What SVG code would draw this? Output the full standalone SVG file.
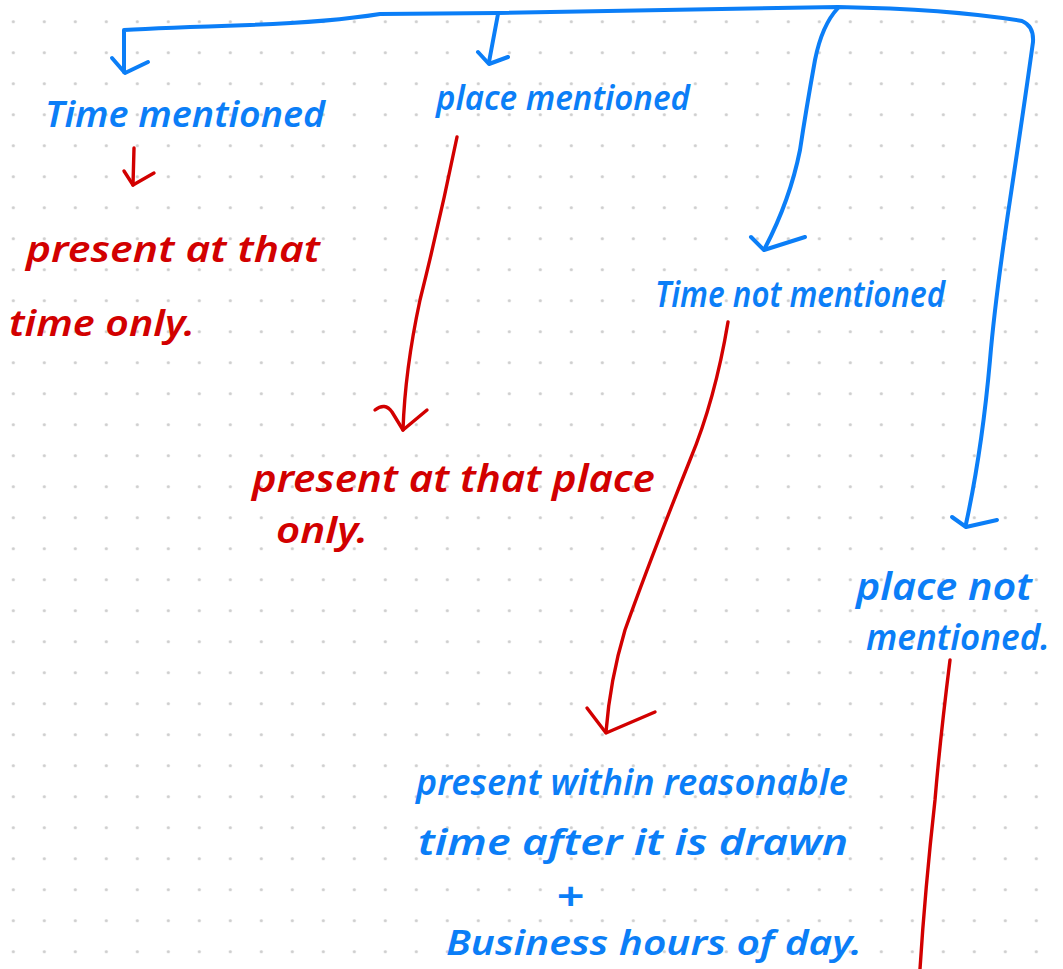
<svg xmlns="http://www.w3.org/2000/svg" width="1063" height="969" viewBox="0 0 1063 969">
  <defs>
    <!-- dotted notebook paper -->
    <pattern id="dots" x="-2.2" y="6.2" width="31" height="31" patternUnits="userSpaceOnUse">
      <circle cx="15.5" cy="15.5" r="1.6" fill="#cdcdcd"/>
    </pattern>
    <style>
      .blue { fill: #0b7ef7; }
      .red { fill: #d20000; }
      text { font-family: "Noto Sans", "DejaVu Sans", sans-serif; font-style: italic; font-weight: 600; }
      .wire { fill: none; stroke-linecap: round; stroke-linejoin: round; }
      .wb { stroke: #0b7ef7; stroke-width: 4; }
      .wr { stroke: #d20000; stroke-width: 3.4; }
    </style>
  </defs>

  <rect width="1063" height="969" fill="#ffffff"/>
  <rect width="1063" height="969" fill="url(#dots)"/>

  <!-- connectors -->
  <g id="connectors">
    <!-- top bracket -->
    <path class="wire wb" d="M124 72 L124 30 Q160 28 250 25 Q330 22 380 14 L498 13 Q650 10 838 7 Q950 9 1022 21 Q1034 26 1033 42 Q1025 100 1010 200 Q995 300 990 360 Q982 450 966 524"/>
    <path class="wire wb" d="M112 58 L125 73 L148 62"/>
    <path class="wire wb" d="M498 14 L489 62"/>
    <path class="wire wb" d="M478 52 L489 64 L508 57"/>
    <path class="wire wb" d="M838 8 Q822 25 815 60 Q806 110 800 150 Q790 200 765 248"/>
    <path class="wire wb" d="M751 237 L764 250 L805 237"/>
    <path class="wire wb" d="M952 517 L966 527 L997 520"/>

    <!-- red arrows -->
    <path class="wire wr" d="M134 148 L133 185"/>
    <path class="wire wr" d="M124 171 L133 185 L154 173"/>
    <path class="wire wr" d="M457 137 Q440 220 420 300 Q405 370 403 430"/>
    <path class="wire wr" d="M375 410 Q385 402 392 412 L403 430 L427 410"/>
    <path class="wire wr" d="M728 322 Q715 400 690 460 Q650 560 625 630 Q610 680 606 732"/>
    <path class="wire wr" d="M587 708 L606 733 L655 712"/>
    <path class="wire wr" d="M950 660 Q940 740 935 800 Q925 890 920 969"/>
  </g>

  <g id="time-mentioned">
    <text class="blue" x="45" y="127" font-size="36" textLength="280" lengthAdjust="spacingAndGlyphs">Time mentioned</text>
  </g>

  <g id="place-mentioned">
    <text class="blue" x="436" y="110" font-size="34" textLength="254" lengthAdjust="spacingAndGlyphs">place mentioned</text>
  </g>

  <g id="time-only">
    <text class="red" x="26" y="262" font-size="36" textLength="294" lengthAdjust="spacingAndGlyphs">present at that</text>
    <text class="red" x="9" y="336" font-size="36" textLength="186" lengthAdjust="spacingAndGlyphs">time only.</text>
  </g>

  <g id="place-only">
    <text class="red" x="252" y="492" font-size="38" textLength="403" lengthAdjust="spacingAndGlyphs">present at that place</text>
    <text class="red" x="276" y="543" font-size="36" textLength="92" lengthAdjust="spacingAndGlyphs">only.</text>
  </g>

  <g id="time-not-mentioned">
    <text class="blue" x="655" y="307" font-size="36" textLength="290" lengthAdjust="spacingAndGlyphs">Time not mentioned</text>
  </g>

  <g id="place-not-mentioned">
    <text class="blue" x="856" y="600" font-size="38" textLength="176" lengthAdjust="spacingAndGlyphs">place not</text>
    <text class="blue" x="866" y="650" font-size="36" textLength="184" lengthAdjust="spacingAndGlyphs">mentioned.</text>
  </g>

  <g id="reasonable-time">
    <text class="blue" x="416" y="795" font-size="36" textLength="432" lengthAdjust="spacingAndGlyphs">present within reasonable</text>
    <text class="blue" x="418" y="855" font-size="36" textLength="430" lengthAdjust="spacingAndGlyphs">time after it is drawn</text>
    <text class="blue" x="556" y="910" font-size="40" textLength="28" lengthAdjust="spacingAndGlyphs">+</text>
    <text class="blue" x="446" y="955" font-size="34" textLength="416" lengthAdjust="spacingAndGlyphs">Business hours of day.</text>
  </g>
</svg>
